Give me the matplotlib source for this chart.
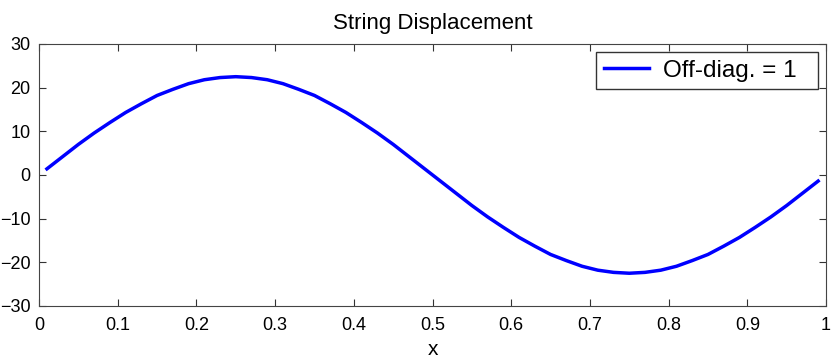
import numpy as np
import matplotlib.pyplot as plt

plt.rcParams['font.family'] = ['Liberation Sans', 'DejaVu Sans']

# values
x = [0.01, 0.03, 0.05, 0.07, 0.09, 0.11, 0.13, 0.15, 0.17, 0.19,
     0.21, 0.23, 0.25, 0.27, 0.29, 0.31, 0.33, 0.35, 0.37, 0.39,
     0.41, 0.43, 0.45, 0.47, 0.49, 0.51, 0.53, 0.55, 0.57, 0.59,
     0.61, 0.63, 0.65, 0.67, 0.69, 0.71, 0.73, 0.75, 0.77, 0.79,
     0.81, 0.83, 0.85, 0.87, 0.89, 0.91, 0.93, 0.95, 0.97, 0.99]
y = [1.4, 4.2, 7.0, 9.6, 12.0, 14.3, 16.3, 18.2, 19.6, 20.9,
     21.8, 22.3, 22.5, 22.3, 21.8, 20.9, 19.6, 18.2, 16.3, 14.3,
     12.0, 9.6, 7.0, 4.2, 1.4, -1.4, -4.2, -7.0, -9.6, -12.0,
     -14.3, -16.3, -18.2, -19.6, -20.9, -21.8, -22.3, -22.5, -22.3, -21.8,
     -20.9, -19.6, -18.2, -16.3, -14.3, -12.0, -9.6, -7.0, -4.2, -1.4]

fig = plt.figure(figsize=(8.31, 3.6), dpi=100)
ax = fig.add_axes([0.047, 0.15, 0.947, 0.728])

ax.plot(x, y, color='#0000ff', linewidth=2.5, label='Off-diag. = 1  ')

ax.set_xlim(0, 1)
ax.set_ylim(-30, 30)
ax.set_xticks(np.arange(0, 1.01, 0.1))
ax.set_xticklabels(['0', '0.1', '0.2', '0.3', '0.4', '0.5', '0.6', '0.7', '0.8', '0.9', '1'])
ax.set_yticks(np.arange(-30, 31, 10))
ax.tick_params(direction='in', top=True, right=True, length=5, labelsize=13,
               colors='#333333', labelcolor='black')
ax.tick_params(axis='x', pad=8)
ax.tick_params(axis='y', pad=6)
for s in ax.spines.values():
    s.set_color('#444444')

ax.set_title('String Displacement', fontsize=16, pad=11)
ax.set_xlabel('x', fontsize=15, labelpad=4)

leg = ax.legend(loc='upper right', fontsize=17.5, fancybox=False, framealpha=1,
                edgecolor='#333333', handlelength=1.85, handletextpad=0.6,
                borderpad=0.3, borderaxespad=0.35)
leg.get_frame().set_linewidth(1.0)

plt.savefig('out.png', dpi=100)
